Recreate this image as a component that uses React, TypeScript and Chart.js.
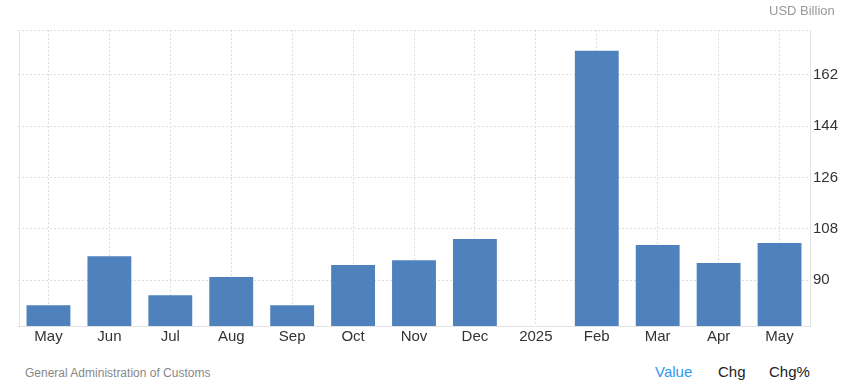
import React, { useEffect, useRef } from "react";
import { Chart, registerables } from "chart.js";

Chart.register(...registerables);

const categories = ["May", "Jun", "Jul", "Aug", "Sep", "Oct", "Nov", "Dec", "2025", "Feb", "Mar", "Apr", "May"];
const values: (number | null)[] = [81.2, 98.4, 84.7, 91.1, 81.2, 95.3, 97.0, 104.4, null, 170.4, 102.3, 96.0, 103.0];
const yTicks = [90, 108, 126, 144, 162];
const unitLabel = "USD Billion";
const sourceLabel = "General Administration of Customs";

const FONT = "'Liberation Sans', Arial, sans-serif";

const framePlugin = {
  id: "frame",
  beforeDatasetsDraw(chart: any) {
    const { ctx, chartArea } = chart;
    const { left, right, top, bottom } = chartArea;
    ctx.save();
    ctx.strokeStyle = "#dcdcdc";
    ctx.lineWidth = 1;
    ctx.setLineDash([2, 2]);
    ctx.beginPath();
    ctx.moveTo(left, top + 0.5);
    ctx.lineTo(right, top + 0.5);
    ctx.stroke();
    ctx.setLineDash([]);
    ctx.strokeStyle = "#e3e3e3";
    ctx.beginPath();
    ctx.moveTo(Math.round(left) + 1.5, top);
    ctx.lineTo(Math.round(left) + 1.5, bottom);
    ctx.stroke();
    ctx.restore();
  },
};

export default function App() {
  const ref = useRef<HTMLCanvasElement | null>(null);
  useEffect(() => {
    if (!ref.current) return;
    const chart = new Chart(ref.current, {
      type: "bar",
      data: {
        labels: categories,
        datasets: [
          {
            data: values,
            backgroundColor: "#4f81bd",
            borderWidth: 0,
            barPercentage: 0.9,
            categoryPercentage: 0.8,
          },
        ],
      },
      options: {
        responsive: false,
        animation: false,
        layout: { padding: { left: 18, top: 30, right: 0, bottom: 0 } },
        plugins: { legend: { display: false }, tooltip: { enabled: false } },
        scales: {
          x: {
            grid: {
              offset: false,
              color: "#dedede",
              drawTicks: false,
            },
            border: { display: true, color: "#e3e3e3", dash: [2, 2] },
            ticks: {
              color: "#333333",
              font: { family: FONT, size: 15 },
              padding: 2,
              maxRotation: 0,
              autoSkip: false,
            },
            afterFit(scale: any) {
              scale.height = 24;
            },
          },
          y: {
            position: "right",
            min: 73.9,
            max: 177.7,
            grid: { color: "#dedede", drawTicks: false },
            border: { display: true, color: "#e3e3e3", dash: [2, 2] },
            ticks: {
              color: "#333333",
              font: { family: FONT, size: 15 },
              padding: 3,
              callback: (v: any) => String(v),
            },
            afterBuildTicks(scale: any) {
              scale.ticks = yTicks.map((v) => ({ value: v }));
            },
            afterFit(scale: any) {
              scale.width = 41;
            },
          },
        },
      },
      plugins: [framePlugin],
    });
    return () => chart.destroy();
  }, []);

  return (
    <div style={{ position: "absolute", left: 0, top: 0, width: 851, height: 386, background: "#fff", fontFamily: FONT }}>
      <canvas ref={ref} width={851} height={350} style={{ position: "absolute", left: 0, top: 0, width: 851, height: 350 }} />
      <div style={{ position: "absolute", left: 769, top: 4, fontSize: 13, lineHeight: "13px", color: "#999999", whiteSpace: "nowrap" }}>{unitLabel}</div>
      <div style={{ position: "absolute", left: 25, top: 367, fontSize: 12, lineHeight: "12px", color: "#888888", whiteSpace: "nowrap" }}>{sourceLabel}</div>
      <div style={{ position: "absolute", left: 655, top: 364, fontSize: 15, lineHeight: "15px", color: "#2e9bf0", whiteSpace: "nowrap" }}>Value</div>
      <div style={{ position: "absolute", left: 718, top: 364, fontSize: 15, lineHeight: "15px", color: "#222222", whiteSpace: "nowrap" }}>Chg</div>
      <div style={{ position: "absolute", left: 769, top: 364, fontSize: 15, lineHeight: "15px", color: "#222222", whiteSpace: "nowrap" }}>Chg%</div>
    </div>
  );
}
